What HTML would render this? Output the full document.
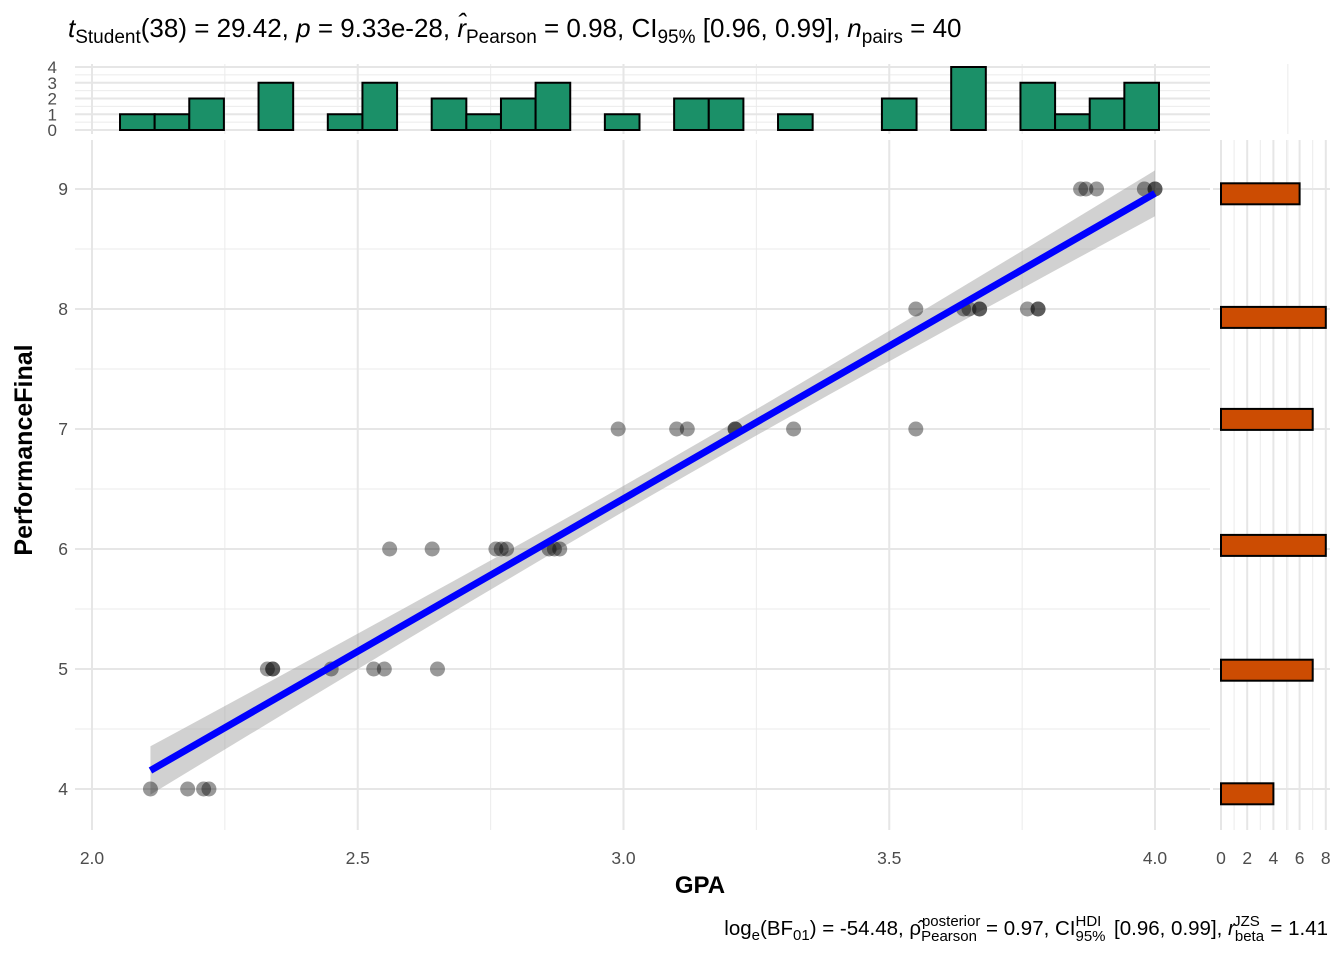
<!DOCTYPE html>
<html><head><meta charset="utf-8"><style>
body{margin:0;background:#fff;font-family:"Liberation Sans",sans-serif}
svg text{font-family:"Liberation Sans",sans-serif}
</style></head><body>
<svg id="c" width="1344" height="960" xmlns="http://www.w3.org/2000/svg">
<text x="68" y="37" font-size="26" fill="#000"><tspan font-style="italic">t</tspan><tspan font-size="19" dy="6">Student</tspan><tspan dy="-6">(38) = 29.42, </tspan><tspan font-style="italic">p</tspan><tspan> = 9.33e-28, </tspan><tspan font-style="italic">r̂</tspan><tspan font-size="19" dy="6">Pearson</tspan><tspan dy="-6"> = 0.98, CI</tspan><tspan font-size="19" dy="6">95%</tspan><tspan dy="-6"> [0.96, 0.99], </tspan><tspan font-style="italic">n</tspan><tspan font-size="19" dy="6">pairs</tspan><tspan dy="-6"> = 40</tspan></text>
<text x="1328" y="935" font-size="20.5" text-anchor="end">log<tspan font-size="15" dy="5">e</tspan><tspan dy="-5">(BF</tspan><tspan font-size="15" dy="5">01</tspan><tspan dy="-5">) = -54.48, ρ̂</tspan><tspan font-size="15" dy="6">Pearson</tspan><tspan font-size="15" dx="-55" dy="-15">posterior</tspan><tspan dy="9"> = 0.97, CI</tspan><tspan font-size="15" dy="6">95%</tspan><tspan font-size="15" dx="-30" dy="-15">HDI</tspan><tspan dy="9" dx="7"> [0.96, 0.99], </tspan><tspan font-style="italic">r</tspan><tspan font-size="15" dy="6">beta</tspan><tspan font-size="15" dx="-31" dy="-15">JZS</tspan><tspan dy="9" dx="5"> = 1.41</tspan></text>
<g id="g"></g>
</svg>
<script>
const gpaVals=[2.11,2.18,2.21,2.22, 2.33,2.34,2.34,2.45,2.53,2.55,2.65, 2.56,2.64,2.76,2.77,2.78,2.86,2.87,2.88, 2.99,3.10,3.12,3.21,3.21,3.32,3.55, 3.55,3.64,3.65,3.67,3.67,3.76,3.78,3.78, 3.86,3.87,3.89,3.98,4.00,4.00];
const perfVals=[4,4,4,4, 5,5,5,5,5,5,5, 6,6,6,6,6,6,6,6, 7,7,7,7,7,7,7, 8,8,8,8,8,8,8,8, 9,9,9,9,9,9];
const topCounts=[1,1,2,0,3,0,1,3,0,2,1,2,3,0,1,0,2,2,0,1,0,0,2,0,4,0,3,1,2,3];
const topStart=2.0527, topWidth=0.06516;
const rightCenters=[8.96,7.93,7.08,6.03,4.99,3.96];
const rightCounts=[6,8,7,8,7,4];
const xTicks=[2.0,2.5,3.0,3.5,4.0], yTicks=[4,5,6,7,8,9], topTicks=[0,1,2,3,4], rightTicks=[0,2,4,6,8];

const NS="http://www.w3.org/2000/svg", G=document.getElementById('g');
function el(t,a,txt){const e=document.createElementNS(NS,t);for(const k in a)e.setAttribute(k,a[k]);if(txt!=null)e.textContent=txt;G.appendChild(e);return e;}
const X=v=>92+(v-2)*531.5, Y=v=>789-(v-4)*120;
const TY=c=>130-c*15.75, RX=c=>1221+c*13.1;
const PL=75,PR=1210,PT=140,PB=830;
for(let v=2.25;v<4.3;v+=0.5){const l=el('line',{x1:X(v),x2:X(v),y1:PT,y2:PB,stroke:'#ebebeb','stroke-width':1});}
for(let v=4.5;v<9.2;v+=1){const l=el('line',{x1:PL,x2:PR,y1:Y(v),y2:Y(v),stroke:'#ebebeb','stroke-width':1});}
xTicks.forEach(v=>{const l=el('line',{x1:X(v),x2:X(v),y1:PT,y2:PB,stroke:'#e6e6e6','stroke-width':2});
 const t=el('text',{x:X(v),y:864,'font-size':17.5,fill:'#4d4d4d','text-anchor':'middle'},v.toFixed(1));});
yTicks.forEach(v=>{const l=el('line',{x1:PL,x2:PR,y1:Y(v),y2:Y(v),stroke:'#e6e6e6','stroke-width':2});
 const t=el('text',{x:68,y:Y(v)+6,'font-size':17.5,fill:'#4d4d4d','text-anchor':'end'},v);});
const n=gpaVals.length, mx=gpaVals.reduce((a,b)=>a+b)/n, my=perfVals.reduce((a,b)=>a+b)/n;
let sxx=0,sxy=0;gpaVals.forEach((x,i)=>{sxx+=(x-mx)**2;sxy+=(x-mx)*(perfVals[i]-my);});
const b=sxy/sxx,a=my-b*mx;let sse=0;gpaVals.forEach((x,i)=>{sse+=(perfVals[i]-a-b*x)**2;});
const s=Math.sqrt(sse/(n-2));
const xmin=Math.min(...gpaVals),xmax=Math.max(...gpaVals);
let up=[],lo=[];for(let k=0;k<=40;k++){const x=xmin+(xmax-xmin)*k/40,y=a+b*x,se=2.024*s*Math.sqrt(1/n+(x-mx)**2/sxx);up.push(X(x)+','+Y(y+se));lo.unshift(X(x)+','+Y(y-se));}
const band=el('polygon',{points:up.concat(lo).join(' '),fill:'#999',opacity:0.45});
gpaVals.forEach((x,i)=>{const c=el('circle',{cx:X(x),cy:Y(perfVals[i]),r:7.5,fill:'#000','fill-opacity':0.4});});
const rl=el('line',{x1:X(xmin),y1:Y(a+b*xmin),x2:X(xmax),y2:Y(a+b*xmax),stroke:'#0000ff','stroke-width':7});
for(let v=0.5;v<4;v+=1){const l=el('line',{x1:PL,x2:PR,y1:TY(v),y2:TY(v),stroke:'#ebebeb'});}
for(let v=2.25;v<4.3;v+=0.5){const l=el('line',{x1:X(v),x2:X(v),y1:64,y2:134,stroke:'#ebebeb'});}
xTicks.forEach(v=>{const l=el('line',{x1:X(v),x2:X(v),y1:64,y2:134,stroke:'#e6e6e6','stroke-width':2});});
topTicks.forEach(v=>{const l=el('line',{x1:PL,x2:PR,y1:TY(v),y2:TY(v),stroke:'#e6e6e6','stroke-width':2});
 const t=el('text',{x:57,y:TY(v)+6,'font-size':17,fill:'#4d4d4d','text-anchor':'end'},v);});
topCounts.forEach((c,i)=>{if(!c)return;const x0=X(topStart+i*topWidth),x1=X(topStart+(i+1)*topWidth);
 const r=el('rect',{x:x0,y:TY(c),width:x1-x0,height:TY(0)-TY(c),fill:'#1b9068',stroke:'#000','stroke-width':2});});
for(let v=1;v<9;v+=2){const l=el('line',{x1:RX(v),x2:RX(v),y1:PT,y2:PB,stroke:'#ebebeb'});}
rightTicks.forEach(v=>{const l=el('line',{x1:RX(v),x2:RX(v),y1:PT,y2:PB,stroke:'#e6e6e6','stroke-width':2});
 const t=el('text',{x:RX(v),y:864,'font-size':17.5,fill:'#4d4d4d','text-anchor':'middle'},v);});
yTicks.forEach(v=>{const l=el('line',{x1:1213,x2:1330,y1:Y(v),y2:Y(v),stroke:'#e6e6e6','stroke-width':2});});
rightCenters.forEach((cv,i)=>{const r=el('rect',{x:RX(0),y:Y(cv)-10.5,width:RX(rightCounts[i])-RX(0),height:21,fill:'#cc4c02',stroke:'#000','stroke-width':2});});
const xt=el('text',{x:700,y:893,'font-size':24,'font-weight':'bold','text-anchor':'middle'},'GPA');
const yt=el('text',{x:0,y:0,'font-size':25,'font-weight':'bold','text-anchor':'middle',transform:'translate(32,450) rotate(-90)'},'PerformanceFinal');
</script>
</body></html>
